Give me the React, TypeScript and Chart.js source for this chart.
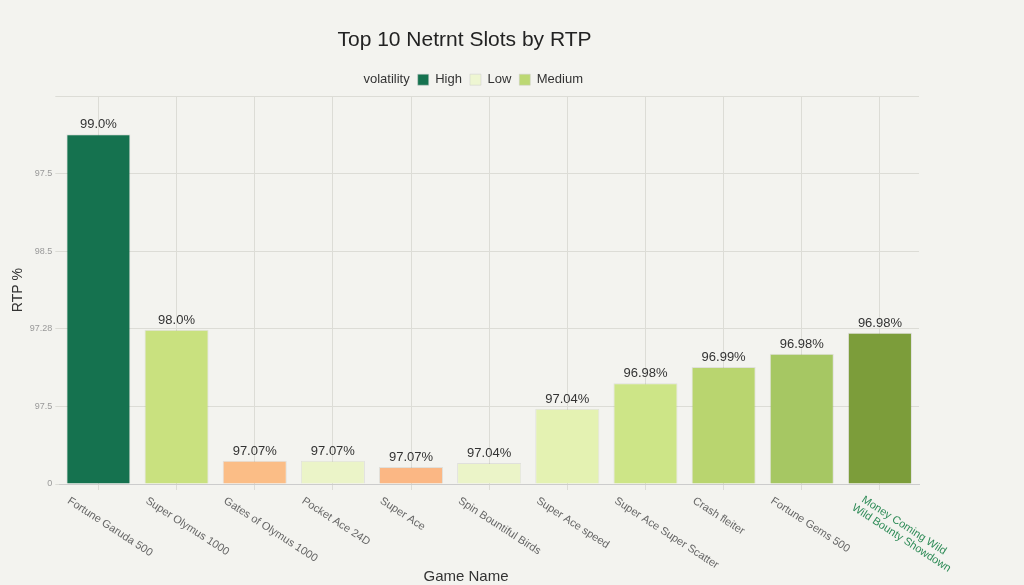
import { Chart, registerables } from "chart.js";
import React, { useEffect, useRef } from "react";

Chart.register(...registerables);

const games = [
  "Fortune Garuda 500",
  "Super Olymus 1000",
  "Gates of Olymus 1000",
  "Pocket Ace 24D",
  "Super Ace",
  "Spin Bountiful Birds",
  "Super Ace speed",
  "Super Ace Super Scatter",
  "Crash fleiter",
  "Fortune Gems 500",
  "Money Coming Wild|Wild Bounty Showdown",
];
// bar heights on the chart's (unlabelled) scale
const heights = [4.51, 1.99, 0.3, 0.3, 0.22, 0.27, 0.97, 1.3, 1.51, 1.68, 1.95];
const valueLabels = ["99.0%", "98.0%", "97.07%", "97.07%", "97.07%", "97.04%", "97.04%", "96.98%", "96.99%", "96.98%", "96.98%"];
const barColors = ["#15724f", "#c9e17f", "#fbbd86", "#ebf4c8", "#fbb784", "#ebf4c8", "#e4f2b2", "#cde587", "#b9d56f", "#a6c763", "#7c9d3a"];
const yTickLabels = ["0", "97.5", "97.28", "98.5", "97.5", ""];
const legendItems = [
  { label: "High", color: "#15724f" },
  { label: "Low", color: "#eef6d2" },
  { label: "Medium", color: "#bcd873" },
];

const App: React.FC = () => {
  const ref = useRef<HTMLCanvasElement | null>(null);

  useEffect(() => {
    document.body.style.margin = "0";
    if (!ref.current) return;
    const font = "'Liberation Sans', Arial, sans-serif";

    const labelsPlugin = {
      id: "custom",
      afterDatasetsDraw(chart: any) {
        const ctx = chart.ctx;
        const meta = chart.getDatasetMeta(0);
        ctx.save();
        ctx.fillStyle = "#333";
        ctx.font = `13px ${font}`;
        ctx.textAlign = "center";
        ctx.textBaseline = "bottom";
        meta.data.forEach((bar: any, i: number) => {
          ctx.fillText(valueLabels[i], bar.x, bar.y - 3);
        });
        // rotated x labels
        const x = chart.scales.x;
        ctx.font = `11px ${font}`;
        ctx.textAlign = "left";
        ctx.textBaseline = "middle";
        games.forEach((g, i) => {
          const px = x.getPixelForValue(i);
          const lines = g.split("|");
          ctx.save();
          ctx.translate(px - 30, 500);
          ctx.rotate((33 * Math.PI) / 180);
          ctx.fillStyle = lines.length > 1 ? "#2e8b57" : "#666";
          lines.forEach((l, j) => ctx.fillText(l, j * -4 + (lines.length > 1 ? 10 : 0), j * 12 - (lines.length > 1 ? 8 : 0)));
          ctx.restore();
        });
        ctx.fillStyle = "#333";
        ctx.font = `15px ${font}`;
        ctx.textAlign = "center";
        ctx.fillText("Game Name", 466, 577);
        ctx.restore();
      },
    };

    const chart = new Chart(ref.current, {
      type: "bar",
      data: {
        labels: games,
        datasets: [
          {
            data: heights,
            backgroundColor: barColors,
            borderColor: "rgba(0,0,0,0.08)",
            borderWidth: 1,
            barPercentage: 0.82,
            categoryPercentage: 1,
          },
        ],
      },
      options: {
        animation: false,
        responsive: false,
        layout: { padding: { top: 0, right: 105, bottom: 95, left: 10 } },
        plugins: {
          title: {
            display: true,
            text: "Top 10 Netrnt Slots by RTP",
            color: "#222",
            font: { family: font, size: 21, weight: "normal" },
            padding: { top: 28, bottom: 12 },
          },
          legend: {
            display: true,
            position: "top",
            labels: {
              color: "#333",
              font: { family: font, size: 13 },
              boxWidth: 11,
              boxHeight: 11,
              padding: 8,
              generateLabels: () => [
                { text: "volatility", fillStyle: "rgba(0,0,0,0)", strokeStyle: "rgba(0,0,0,0)", lineWidth: 0, fontColor: "#333" } as any,
                ...legendItems.map((l) => ({ text: l.label, fillStyle: l.color, strokeStyle: "#ccc", lineWidth: 0.5, fontColor: "#333" } as any)),
              ],
            },
          },
          tooltip: { enabled: false },
        },
        scales: {
          x: {
            ticks: { display: false },
            grid: { color: "#dcdcd6", offset: false, drawTicks: true, tickLength: 6 },
            border: { color: "#ccc" },
          },
          y: {
            min: 0,
            max: 5,
            ticks: {
              stepSize: 1,
              color: "#999",
              padding: 3,
              font: { family: font, size: 9 },
              callback: (v: any) => yTickLabels[v] ?? "",
            },
            grid: { color: "#dcdcd6", tickLength: 4 },
            border: { display: false },
            title: { display: true, text: "RTP %", color: "#333", padding: 0, font: { family: font, size: 14 } },
          },
        },
      },
      plugins: [labelsPlugin],
    });
    return () => chart.destroy();
  }, []);

  return (
    <div style={{ background: "#f3f3ef", width: 1024, height: 585 }}>
      <canvas ref={ref} width={1024} height={585} style={{ display: "block" }} />
    </div>
  );
};

export default App;
